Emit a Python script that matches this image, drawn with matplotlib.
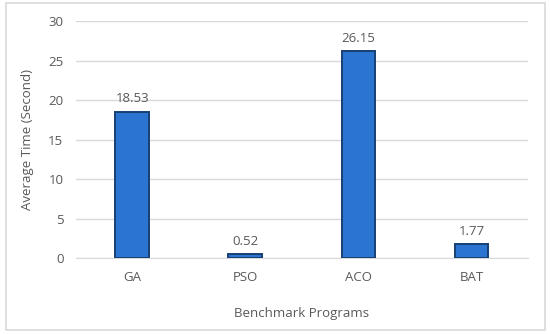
import matplotlib.pyplot as plt
from matplotlib.patches import Rectangle

algorithms = ["GA", "PSO", "ACO", "BAT"]
avg_time = [18.53, 0.52, 26.15, 1.77]
y_ticks = [0, 5, 10, 15, 20, 25, 30]

txt = "#595959"
plt.rcParams["font.family"] = ["Open Sans", "DejaVu Sans"]

fig = plt.figure(figsize=(5.5, 3.34), dpi=100)
ax = fig.add_axes([0.138, 0.2275, 0.822, 0.7095])

# outer chart border
fig.patches.append(Rectangle((0.01, 0.012), 0.98, 0.978, transform=fig.transFigure,
                             fill=False, edgecolor="#d9d9d9", linewidth=1.2))

x = range(len(algorithms))
bars = ax.bar(x, avg_time, width=0.3, color="#2B74D0", edgecolor="#173F73",
              linewidth=1.4, zorder=3)
for b, v in zip(bars, avg_time):
    ax.text(b.get_x() + b.get_width() / 2, v + 0.8, f"{v:.2f}", ha="center",
            va="bottom", fontsize=9.5, color=txt)

ax.set_xlim(-0.5, 3.5)
ax.set_ylim(0, 30)
ax.set_yticks(y_ticks)
ax.set_xticks(list(x))
ax.set_xticklabels(algorithms)
ax.yaxis.grid(True, color="#d9d9d9", linewidth=1)
ax.set_axisbelow(True)
for s in ["top", "right", "left"]:
    ax.spines[s].set_visible(False)
ax.spines["bottom"].set_color("#d9d9d9")
ax.tick_params(length=0, colors=txt, labelsize=9.5, pad=9)
ax.set_ylabel("Average Time (Second)", color=txt, fontsize=9.5, labelpad=10)
ax.set_xlabel("Benchmark Programs", color=txt, fontsize=9.5, labelpad=17)

fig.savefig("out.png", dpi=100)
